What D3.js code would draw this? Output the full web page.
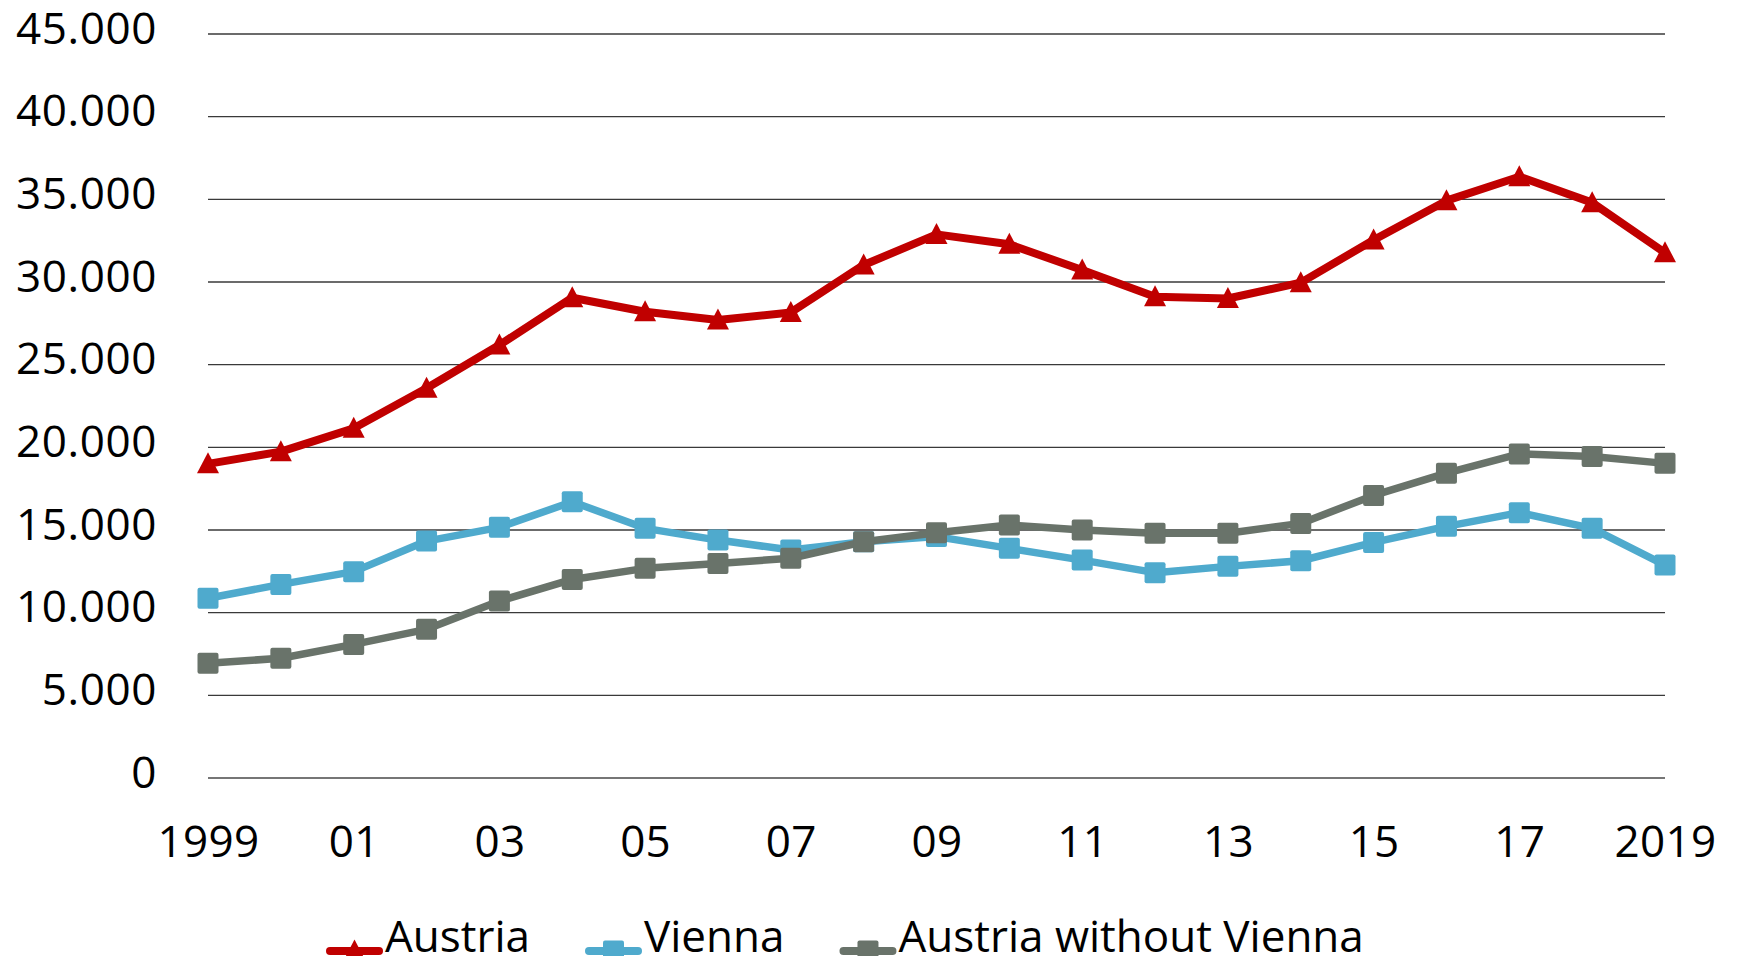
<!DOCTYPE html>
<html>
<head>
	<meta charset="utf-8">
	<title>Austria / Vienna 1999-2019</title>
	<script src="https://d3js.org/d3.v7.min.js"></script>
	<style>
		html, body { margin: 0; padding: 0; background: #fff; }
		svg { display: block; font-family: "Open Sans", sans-serif; }
	</style>
</head>
<body>
	<div id="chart"></div>
	<script>
		// data
		const years = [1999, 2000, 2001, 2002, 2003, 2004, 2005, 2006, 2007, 2008, 2009, 2010, 2011, 2012, 2013, 2014, 2015, 2016, 2017, 2018, 2019]
		const austria = [19000, 19740, 21150, 23570, 26190, 29050, 28200, 27700, 28160, 31030, 32880, 32280, 30720, 29110, 29000, 29960, 32540, 34920, 36370, 34800, 31770]
		const vienna = [10870, 11710, 12480, 14330, 15160, 16710, 15100, 14390, 13790, 14290, 14600, 13890, 13180, 12420, 12800, 13140, 14250, 15220, 16050, 15100, 12880]
		const withoutVienna = [6940, 7240, 8080, 8990, 10700, 12010, 12680, 12980, 13290, 14290, 14830, 15300, 15000, 14800, 14800, 15400, 17090, 18440, 19600, 19440, 19030]

		const xTickYears = [1999, 2001, 2003, 2005, 2007, 2009, 2011, 2013, 2015, 2017, 2019]
		const xTickLabels = ["1999", "01", "03", "05", "07", "09", "11", "13", "15", "17", "2019"]
		const yTicks = [0, 5000, 10000, 15000, 20000, 25000, 30000, 35000, 40000, 45000]

		const seriesNames = ["Austria", "Vienna", "Austria without Vienna"]
		const seriesColors = ["#c00000", "#4faacd", "#69736a"]
		const seriesSymbols = ["triangle", "square", "square"]
		const seriesWidths = [8, 7.5, 7.5]

		const W = 1737, H = 956
		const margin = {top: 34, right: 72, bottom: 178, left: 208}

		const svg = d3.select("#chart").append("svg")
			.attr("width", W)
			.attr("height", H)

		const x = d3.scaleLinear()
			.domain([years[0], years[years.length - 1]])
			.range([margin.left, W - margin.right])

		const y = d3.scaleLinear()
			.domain([0, 45000])
			.range([H - margin.bottom, margin.top])

		// german style thousands: 45.000
		const fmt = d3.formatLocale({decimal: ",", thousands: ".", grouping: [3], currency: ["", "€"]}).format(",")

		// gridlines
		svg.append("g")
			.selectAll("line")
			.data(yTicks)
			.join("line")
			 .attr("x1", x.range()[0])
			 .attr("x2", x.range()[1])
			 .attr("y1", d => y(d))
			 .attr("y2", d => y(d))
			 .attr("stroke", d => d === 0 ? "#767676" : "#3a3a3a")
			 .attr("stroke-width", d => d === 0 ? 2 : 1.3)

		// y axis labels
		const yAxis = d3.axisLeft(y).tickValues(yTicks).tickFormat(fmt).tickSize(0).tickPadding(0)
		svg.append("g")
			.attr("transform", "translate(157,0)")
			.call(yAxis)
			.call(g => g.select(".domain").remove())
			.selectAll("text")
			 .attr("dy", "9px")
			 .attr("font-family", "'Open Sans', sans-serif")
			 .attr("font-size", 44)
			 .attr("letter-spacing", "0.6px")
			 .attr("fill", "#000")

		// x axis labels
		const xAxis = d3.axisBottom(x).tickValues(xTickYears)
			.tickFormat((d, i) => xTickLabels[i]).tickSize(0).tickPadding(0)
		svg.append("g")
			.attr("transform", "translate(0,857)")
			.call(xAxis)
			.call(g => g.select(".domain").remove())
			.selectAll("text")
			 .attr("dy", 0)
			 .attr("y", 0)
			 .attr("font-family", "'Open Sans', sans-serif")
			 .attr("font-size", 44)
			 .attr("letter-spacing", "0.3px")
			 .attr("fill", "#000")

		// triangle a little taller than equilateral, like the original
		const triPath = "M0,-12.5L11,8.5L-11,8.5Z"

		function drawMarker(g, kind, color, cx, cy) {
			if (kind === "triangle") {
				g.append("path")
					.attr("d", triPath)
					.attr("transform", `translate(${cx},${cy + 1})`)
					.attr("fill", color)
			} else {
				g.append("rect")
					.attr("x", cx - 10.5)
					.attr("y", cy - 10.5)
					.attr("width", 21)
					.attr("height", 21)
					.attr("rx", 2)
					.attr("fill", color)
			}
		}

		const line = d3.line()
			.x((d, i) => x(years[i]))
			.y(d => y(d))

		const allSeries = [austria, vienna, withoutVienna]
		allSeries.forEach((vals, s) => {
			const g = svg.append("g")
			g.append("path")
				.datum(vals)
				.attr("d", line)
				.attr("fill", "none")
				.attr("stroke", seriesColors[s])
				.attr("stroke-width", seriesWidths[s])
				.attr("stroke-linejoin", "round")
			vals.forEach((v, i) => drawMarker(g, seriesSymbols[s], seriesColors[s], x(years[i]), y(v)))
		})

		// legend (sits on the bottom edge like the original)
		const legend = svg.append("g")
		let lx = 326
		const ly = 952
		seriesNames.forEach((name, s) => {
			const item = legend.append("g")
			item.append("line")
				.attr("x1", lx + 4).attr("x2", lx + 53)
				.attr("y1", ly - 1).attr("y2", ly - 1)
				.attr("stroke", seriesColors[s])
				.attr("stroke-width", 8)
				.attr("stroke-linecap", "round")
			drawMarker(item, seriesSymbols[s], seriesColors[s], lx + 28.5, ly - 1)
			const t = item.append("text")
				.attr("x", lx + 59)
				.attr("y", ly)
				.attr("font-size", 44)
				.attr("fill", "#000")
				.text(name)
			lx += 59 + t.node().getComputedTextLength() + 55
		})
	</script>
</body>
</html>
